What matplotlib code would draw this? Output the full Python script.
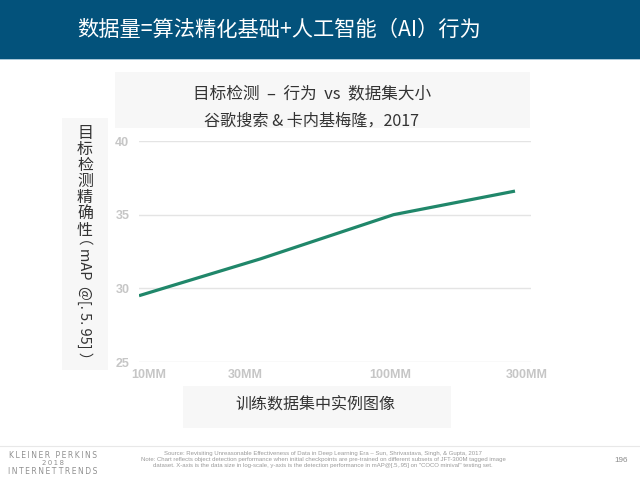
import matplotlib
matplotlib.use("Agg")
import matplotlib.pyplot as plt
from matplotlib.patches import Rectangle
from matplotlib.transforms import ScaledTranslation

plt.rcParams['font.family'] = ['Noto Sans CJK SC', 'DejaVu Sans']

# Data
sizes = [10, 30, 100, 300]            # training images (millions)
x_labels = ['10MM', '30MM', '100MM', '300MM']
map_values = [29.5, 32.0, 35.0, 36.6]  # mAP@[.5,.95]
y_ticks = [25, 30, 35, 40]

title = '数据量=算法精化基础+人工智能（AI）行为'
chart_title1 = '目标检测  –  行为  vs  数据集大小'
chart_title2 = '谷歌搜索 & 卡内基梅隆，2017'
y_label_cjk = '目\n标\n检\n测\n精\n确\n性'
y_label_latin = '（ mAP  @[. 5. 95] ）'
x_label = '训练数据集中实例图像'
source = ('Source: Revisiting Unreasonable Effectiveness of Data in Deep Learning Era – Sun, Shrivastava, Singh, & Gupta, 2017\n'
          'Note: Chart reflects object detection performance when initial checkpoints are pre-trained on different subsets of JFT-300M tagged image\n'
          'dataset. X-axis is the data size in log-scale, y-axis is the detection performance in mAP@[.5,.95] on "COCO minival" testing set.')

W, H = 640, 480
fig = plt.figure(figsize=(6.4, 4.8), dpi=100)
fig.patch.set_facecolor('white')

def fx(px):
    return px / W

def fy(py):
    return 1 - py / H

# Title bar
fig.patches.append(Rectangle((0, fy(59)), 1, 59 / H, transform=fig.transFigure,
                             facecolor='#03527b', edgecolor='none', zorder=0))
fig.patches.append(Rectangle((0, fy(60)), 1, 1.2 / H, transform=fig.transFigure,
                             facecolor='#a9c7d8', edgecolor='none', zorder=0))
fig.text(fx(77), fy(30), title, color='white', fontsize=15.3, va='center', ha='left')

# Light boxes
fig.patches.append(Rectangle((fx(115), fy(128)), fx(530) - fx(115), 56 / H, transform=fig.transFigure,
                             facecolor='#f7f7f7', edgecolor='none', zorder=0))
fig.patches.append(Rectangle((fx(62), fy(370)), fx(108) - fx(62), 252 / H, transform=fig.transFigure,
                             facecolor='#f7f7f7', edgecolor='none', zorder=0))
fig.patches.append(Rectangle((fx(183), fy(428)), fx(451) - fx(183), 42 / H, transform=fig.transFigure,
                             facecolor='#f7f7f7', edgecolor='none', zorder=0))

fig.text(fx(312), fy(94), chart_title1, color='#333333', fontsize=12, ha='center', va='center')
fig.text(fx(312), fy(121), chart_title2, color='#333333', fontsize=11.6, ha='center', va='center')

# Axes
ax = fig.add_axes([fx(139), fy(362), fx(531) - fx(139), (362 - 141) / H])
ax.set_facecolor('none')
ax.plot(sizes, map_values, color='#20876a', linewidth=2.3, solid_capstyle='butt',
        solid_joinstyle='round')
ax.set_xscale('log')
ax.set_xlim(10, 346.7)
ax.set_ylim(25, 40)
ax.set_yticks(y_ticks)
ax.set_yticklabels([str(v) for v in y_ticks])
ax.set_xticks(sizes)
ax.set_xticklabels(x_labels)
ax.minorticks_off()
ax.grid(axis='y', color='#e4e4e4', linewidth=1.0)
ax.set_axisbelow(True)
for s in ax.spines.values():
    s.set_visible(False)
ax.tick_params(axis='both', length=0, colors='#c6c6c6', labelsize=9)
ax.tick_params(axis='y', pad=7)
ax.tick_params(axis='x', pad=4)
for lbl in ax.get_xticklabels() + ax.get_yticklabels():
    lbl.set_fontweight('bold')
    lbl.set_family(['Liberation Sans', 'DejaVu Sans'])
# nudge x tick labels to match the slide's placement (pixels)
label_shift_px = [10, -15, -3, 12]
for lbl, dx in zip(ax.get_xticklabels(), label_shift_px):
    lbl.set_transform(lbl.get_transform() + ScaledTranslation(dx / 100, -1 / 100, fig.dpi_scale_trans))

# Y label (vertical)
fig.text(fx(85), fy(125), y_label_cjk, color='#333333', fontsize=11.5, ha='center', va='top',
         linespacing=0.93)
fig.text(fx(85), fy(298), y_label_latin, color='#333333', fontsize=10.5, ha='center', va='center',
         rotation=-90)

# X label
fig.text(fx(315), fy(405), x_label, color='#333333', fontsize=11.5, ha='center', va='center')

# Footer
fig.add_artist(plt.Line2D([0, 1], [fy(446), fy(446)], transform=fig.transFigure,
                          color='#e8e8e8', linewidth=0.8))
sp = '\u2009'
fig.text(fx(53), fy(455.5), sp.join('KLEINER PERKINS'), color='#909090', fontsize=5.5, ha='center',
         va='center', family=['DejaVu Sans'])
fig.text(fx(53), fy(463), sp.join('2018'), color='#909090', fontsize=5.0, ha='center', va='center',
         family=['DejaVu Sans'])
fig.text(fx(53), fy(471), sp.join('INTERNET') + ' ' + sp.join('TRENDS'), color='#909090', fontsize=5.5,
         ha='center', va='center', family=['DejaVu Sans'])
fig.text(fx(323), fy(459.5), source, color='#9a9a9a', fontsize=4.3, ha='center', va='center',
         family=['Liberation Sans', 'DejaVu Sans'], linespacing=1.25)
fig.text(fx(621), fy(460), '196', color='#8a8a8a', fontsize=5.8, ha='center', va='center',
         family=['Liberation Sans', 'DejaVu Sans'])

fig.savefig('out.png', dpi=100)
